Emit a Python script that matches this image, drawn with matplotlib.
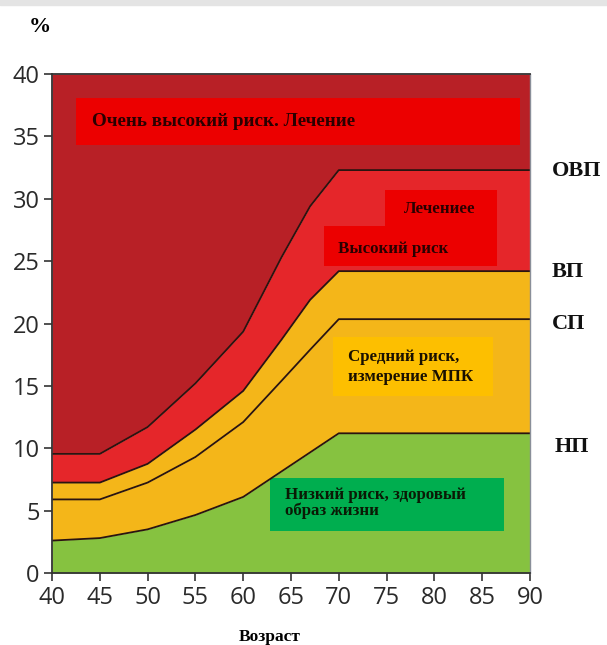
import matplotlib
matplotlib.use("Agg")
import matplotlib.pyplot as plt
from matplotlib.patches import Rectangle

ages = [40, 45, 50, 55, 60, 64, 67, 70, 75, 80, 85, 90]
low_line = [2.6, 2.8, 3.5, 4.65, 6.1, 8.14, 9.67, 11.2, 11.2, 11.2, 11.2, 11.2]          # НП
mid_line = [5.9, 5.9, 7.25, 9.3, 12.1, 15.4, 17.9, 20.35, 20.35, 20.35, 20.35, 20.35]    # СП
high_line = [7.25, 7.25, 8.75, 11.5, 14.6, 18.7, 21.9, 24.2, 24.2, 24.2, 24.2, 24.2]     # ВП
vhigh_line = [9.55, 9.55, 11.7, 15.2, 19.35, 25.3, 29.4, 32.3, 32.3, 32.3, 32.3, 32.3]  # ОВП

right_labels = ["ОВП", "ВП", "СП", "НП"]
right_label_y = [32.2, 24.1, 20.0, 10.1]

xticks = [40, 45, 50, 55, 60, 65, 70, 75, 80, 85, 90]
yticks = [0, 5, 10, 15, 20, 25, 30, 35, 40]

c_dark = "#b82026"
c_red = "#e5262a"
c_orange = "#f4b619"
c_green = "#86c240"
edge = "#2a1410"

fig = plt.figure(figsize=(6.07, 6.45), dpi=100)
fig.add_artist(Rectangle((0, 0.992), 1, 0.008, transform=fig.transFigure,
                         color="#e4e4e4", zorder=0))
ax = fig.add_axes([0.0857, 0.1116, 0.7874, 0.7736])

top = [40] * len(ages)
zero = [0] * len(ages)
ax.fill_between(ages, vhigh_line, top, color=c_dark, lw=0)
ax.fill_between(ages, high_line, vhigh_line, color=c_red, lw=0)
ax.fill_between(ages, mid_line, high_line, color=c_orange, lw=0)
ax.fill_between(ages, low_line, mid_line, color=c_orange, lw=0)
ax.fill_between(ages, zero, low_line, color=c_green, lw=0)
for ln in (vhigh_line, high_line, mid_line, low_line):
    ax.plot(ages, ln, color=edge, lw=1.3)

serif = "Liberation Serif"
# label boxes
ax.add_patch(Rectangle((42.5, 34.3), 46.5, 3.8, color="#ec0000", lw=0))
ax.text(44.2, 36.2, "Очень высокий риск. Лечение", family=serif, weight="bold",
        fontsize=13.8, color="#2a0000", va="center")

ax.add_patch(Rectangle((74.8, 27.8), 11.7, 2.9, color="#ec0000", lw=0))
ax.add_patch(Rectangle((68.45, 24.6), 18.05, 3.2, color="#ec0000", lw=0))
ax.text(80.55, 29.15, "Лечениее", family=serif, weight="bold",
        fontsize=12.2, color="#2a0000", va="center", ha="center")
ax.text(69.9, 26.0, "Высокий риск", family=serif, weight="bold",
        fontsize=12.2, color="#2a0000", va="center")

ax.add_patch(Rectangle((69.4, 14.2), 16.7, 4.7, color="#fdbf00", lw=0))
ax.text(71.0, 16.5, "Средний риск,\nизмерение МПК", family=serif, weight="bold",
        fontsize=12.2, color="#1a1000", va="center", linespacing=1.35)

ax.add_patch(Rectangle((62.8, 3.4), 24.5, 4.2, color="#00ae4f", lw=0))
ax.text(64.4, 5.6, "Низкий риск, здоровый\nобраз жизни", family=serif, weight="bold",
        fontsize=12.2, color="#0a1a05", va="center", linespacing=0.95)

for lab, yv in zip(right_labels, right_label_y):
    ax.text(92.3 if lab != "НП" else 92.6, yv, lab, family=serif, weight="bold",
            fontsize=16, color="#111111", va="center", clip_on=False)

fig.text(0.066, 0.958, "%", family=serif, weight="bold", fontsize=16, ha="center", va="center")
fig.text(0.445, 0.013, "Возраст", family=serif, weight="bold", fontsize=12.5, ha="center", va="center")

ax.set_xlim(40, 90)
ax.set_ylim(0, 40)
ax.set_xticks(xticks)
ax.set_yticks(yticks)
ax.tick_params(direction="out", length=6, width=1.2, color="#333333",
               labelsize=17, labelcolor="#2a2a2a", pad=3)
for lab in ax.get_xticklabels() + ax.get_yticklabels():
    lab.set_family("Open Sans")
for s in ("left", "bottom", "top"):
    ax.spines[s].set_color("#333333")
    ax.spines[s].set_linewidth(1.3)
ax.spines["right"].set_color("#8a8f99")
ax.spines["right"].set_linewidth(1.0)

fig.savefig("out.png", dpi=100)
